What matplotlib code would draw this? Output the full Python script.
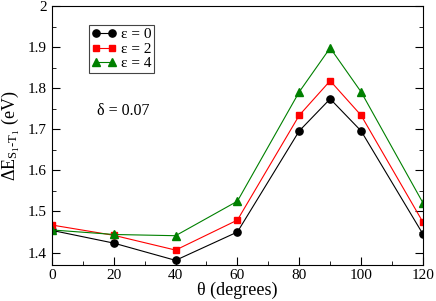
import numpy as np
import matplotlib.pyplot as plt
from matplotlib.ticker import MultipleLocator

plt.rcParams['font.family'] = ['Liberation Serif', 'DejaVu Serif']
plt.rcParams['mathtext.fontset'] = 'custom'
plt.rcParams['mathtext.rm'] = 'Liberation Serif'
plt.rcParams['mathtext.it'] = 'Liberation Serif:italic'

# --- data ---
theta = [0, 20, 40, 60, 80, 90, 100, 120]
e0 = [1.454, 1.423, 1.381, 1.450, 1.696, 1.774, 1.696, 1.445]
e2 = [1.467, 1.442, 1.406, 1.479, 1.734, 1.818, 1.734, 1.474]
e4 = [1.455, 1.444, 1.441, 1.525, 1.791, 1.898, 1.791, 1.521]

fig = plt.figure(figsize=(4.36, 3.01), dpi=100)
ax = fig.add_axes([0.119, 0.12, 0.851, 0.86])

ax.plot(theta, e0, '-o', color='black', lw=0.8, ms=5.2, label='ε = 0')
ax.plot(theta, e2, '-s', color='red', lw=0.8, ms=4.8, label='ε = 2')
ax.plot(theta, e4, '-^', color='green', lw=0.8, ms=5.8, label='ε = 4')

ax.set_xlim(0, 120)
ax.set_ylim(1.37, 2.0)
ax.xaxis.set_major_locator(MultipleLocator(20))
ax.xaxis.set_minor_locator(MultipleLocator(10))
ax.yaxis.set_minor_locator(MultipleLocator(0.05))
ax.set_yticks(np.arange(1.4, 2.01, 0.1))
ax.set_yticklabels(['1.4', '1.5', '1.6', '1.7', '1.8', '1.9', '2'])
ax.tick_params(which='both', direction='in', right=True, top=False, labelsize=11)
ax.tick_params(which='major', length=6)
ax.tick_params(which='minor', length=3)
ax.tick_params(axis='x', pad=3)

ax.set_xlabel('θ (degrees)', fontsize=13, labelpad=0)
ax.set_ylabel(r'$\Delta\mathrm{E}_{\mathrm{S}_1\text{-}\mathrm{T}_1}$ (eV)', fontsize=13, labelpad=4)

ax.text(0.121, 0.58, 'δ = 0.07', transform=ax.transAxes, fontsize=11.5, va='baseline')

leg = ax.legend(loc='upper left', bbox_to_anchor=(0.099, 0.928), fontsize=11,
                fancybox=False, edgecolor='#444444', framealpha=1,
                handlelength=1.6, handletextpad=0.3, borderpad=0.2,
                labelspacing=0.05, borderaxespad=0, numpoints=2)
leg.get_frame().set_linewidth(0.8)

fig.savefig('out.png', dpi=100)
